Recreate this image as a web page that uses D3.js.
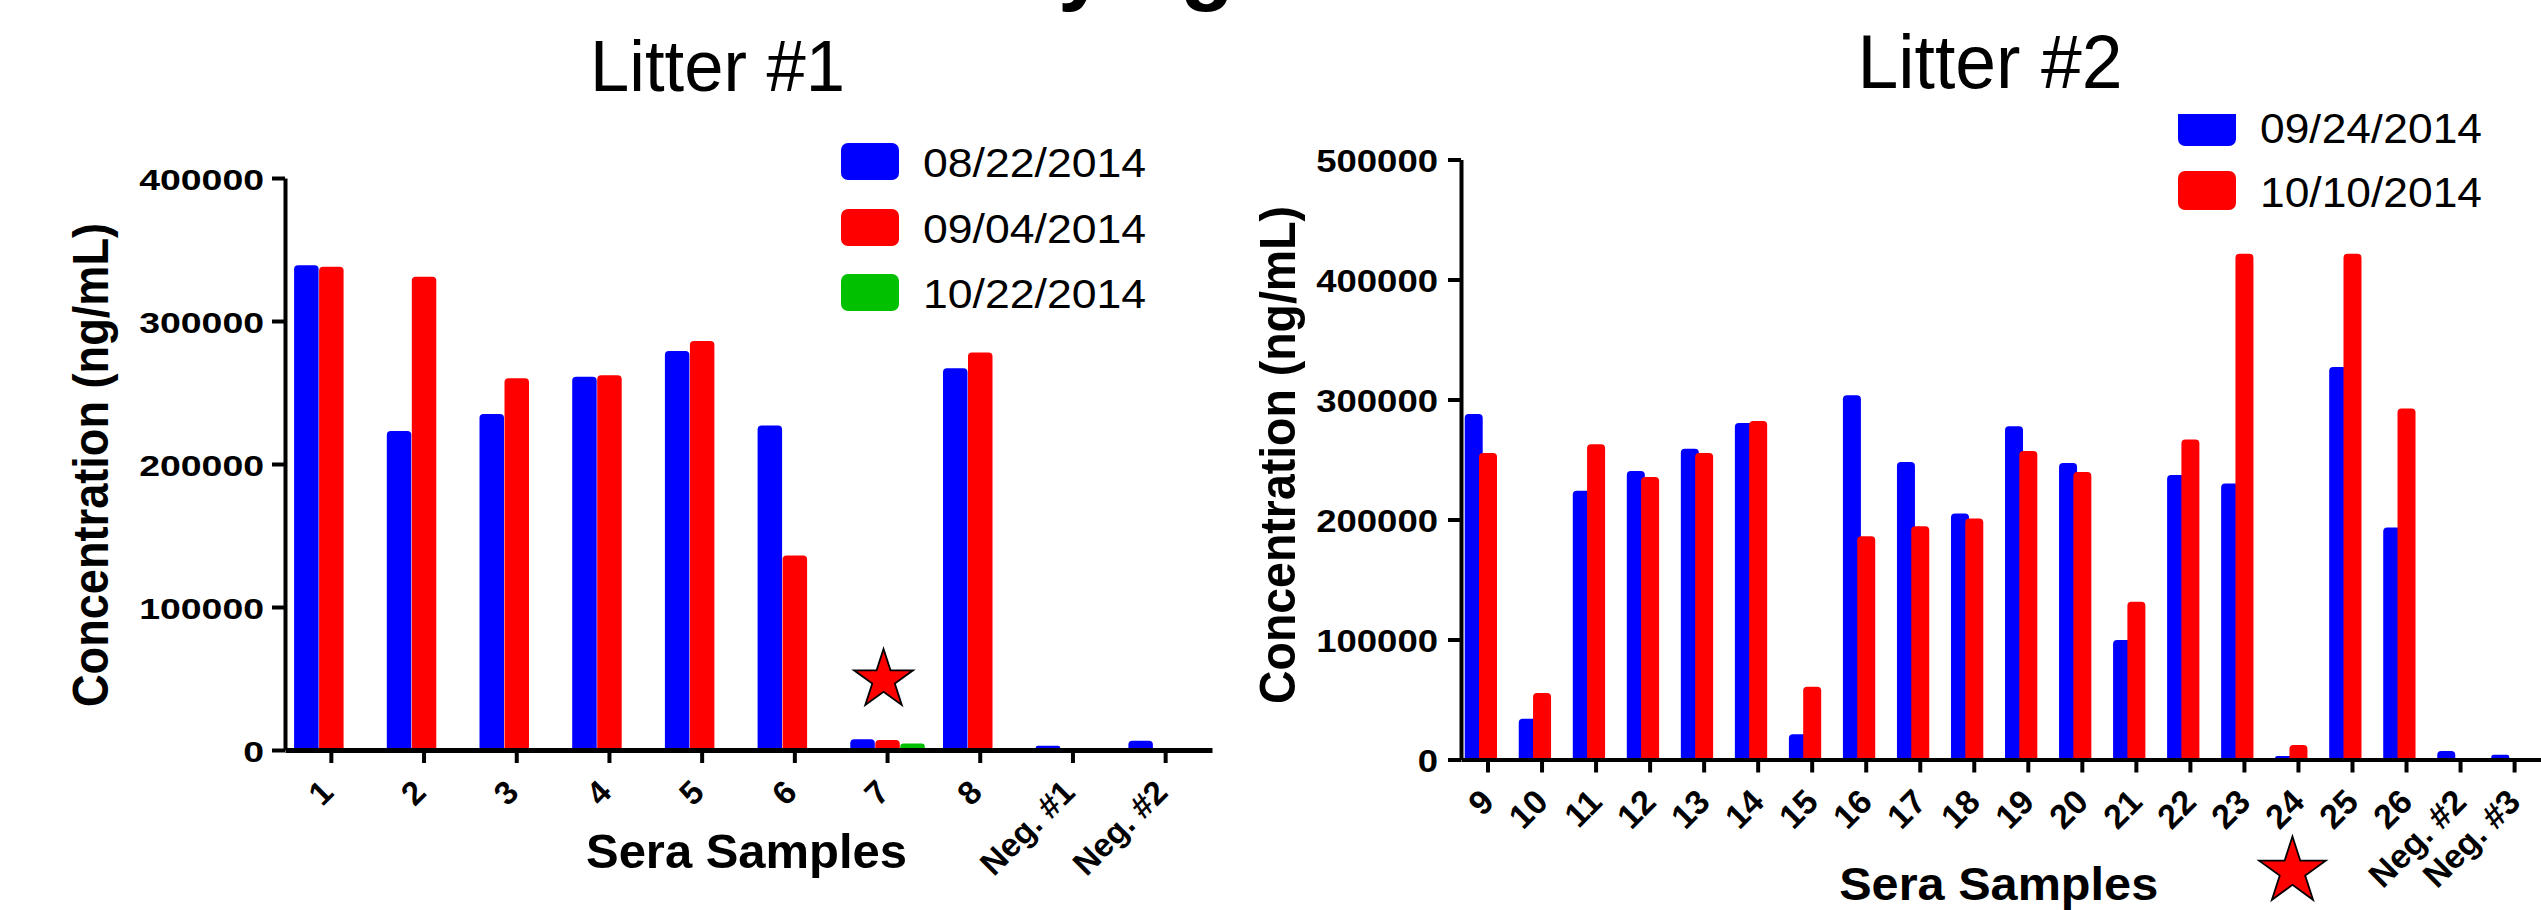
<!DOCTYPE html>
<html>
<head>
<meta charset="utf-8">
<script src="https://cdn.jsdelivr.net/npm/d3@7"></script>
<style>
  body { margin: 0; background: #fff; }
  svg { display: block; }
  text { font-family: "Liberation Sans", Arial, sans-serif; fill: #000; }
</style>
</head>
<body>
<svg id="chart" width="2541" height="910"></svg>
<script>
// ---- data ----
var litter1Samples = ["1", "2", "3", "4", "5", "6", "7", "8", "Neg. #1", "Neg. #2"];
var litter1Dates = ["08/22/2014", "09/04/2014", "10/22/2014"];
var litter1Aug22 = [339000, 223000, 235000, 261000, 279000, 227000, 7500, 267000, 3000, 6500];
var litter1Sep04 = [338000, 331000, 260000, 262000, 286000, 136000, 7000, 278000, 0, 0];
var litter1Oct22 = [0, 0, 0, 0, 0, 0, 4500, 0, 0, 0];
var litter1Ticks = [0, 100000, 200000, 300000, 400000];

var litter2Samples = ["9", "10", "11", "12", "13", "14", "15", "16", "17", "18", "19", "20",
                      "21", "22", "23", "24", "25", "26", "Neg. #2", "Neg. #3"];
var litter2Dates = ["09/24/2014", "10/10/2014"];
var litter2Sep24 = [288000, 34000, 224000, 240500, 259000, 280500, 21000, 303500, 248000, 205000,
                    277700, 247000, 99500, 237000, 230000, 3000, 327000, 193300, 7000, 4000];
var litter2Oct10 = [255500, 55500, 262700, 235500, 255500, 282000, 60600, 186000, 194400, 200800,
                    257000, 239600, 131400, 266600, 421500, 12000, 421500, 292400, 0, 0];
var litter2Ticks = [0, 100000, 200000, 300000, 400000, 500000];

var colors = ["#0000ff", "#ff0000", "#00c000"];

var svg = d3.select("#chart");
svg.append("rect").attr("width", 2541).attr("height", 910).attr("fill", "#fff");

// bar with slightly rounded top corners
function barPath(x, y, w, h) {
    var r = Math.min(4, w / 2, h / 2);
    return "M" + x + "," + (y + h) + "V" + (y + r) +
        "Q" + x + "," + y + " " + (x + r) + "," + y +
        "H" + (x + w - r) +
        "Q" + (x + w) + "," + y + " " + (x + w) + "," + (y + r) +
        "V" + (y + h) + "Z";
}

function drawChart(cfg) {
    var x = d3.scaleBand().domain(cfg.samples).range(cfg.xRange);
    var y = d3.scaleLinear().domain([0, cfg.yMax]).range(cfg.yRange);
    var g = svg.append("g");

    // bars: slot 0 = blue, 1 = red, 2 = green, red slot sits on the tick
    cfg.series.forEach(function (vals, i) {
        var off = (i - 1) * cfg.step;
        var rows = vals.map(function (v, j) { return {v: v, c: cfg.samples[j]}; })
            .filter(function (d) { return d.v > 0; });
        g.selectAll(".s" + i)
            .data(rows)
            .enter().append("path")
            .attr("class", "s" + i)
            .attr("d", function (d) {
                var cx = x(d.c) + x.bandwidth() / 2 + off;
                return barPath(cx - cfg.barW / 2, y(d.v), cfg.barW, y(0) - y(d.v));
            })
            .attr("fill", colors[i]);
    });

    // y axis
    var ya = g.append("g")
        .attr("transform", "translate(" + cfg.xRange[0] + ",0)")
        .call(d3.axisLeft(y).tickValues(cfg.yTicks).tickFormat(d3.format("d"))
            .tickSize(13).tickSizeOuter(0).tickPadding(cfg.yPad));
    ya.select(".domain").attr("stroke-width", 4);
    ya.selectAll(".tick line").attr("stroke-width", 4);
    ya.selectAll("text")
        .attr("font-family", null)
        .attr("font-size", cfg.yFont)
        .attr("font-weight", "bold")
        .attr("dy", "0.38em")
        .attr("textLength", function (d) { return String(d).length * cfg.digitW; })
        .attr("lengthAdjust", "spacingAndGlyphs");

    // x axis
    var xa = g.append("g")
        .attr("transform", "translate(0," + y(0) + ")")
        .call(d3.axisBottom(x).tickSize(13).tickSizeOuter(0));
    xa.select(".domain").attr("stroke-width", cfg.xAxisW);
    xa.selectAll(".tick line").attr("stroke-width", 4);
    xa.selectAll("text")
        .attr("font-family", null)
        .attr("font-size", cfg.xFont)
        .attr("font-weight", "bold")
        .attr("y", 0)
        .attr("dy", "0.35em")
        .attr("text-anchor", "end")
        .attr("transform", "translate(" + cfg.xLab[0] + "," + cfg.xLab[1] + ") rotate(-45)");
    ya.attr("font-size", null).attr("font-family", null);
    xa.attr("font-size", null).attr("font-family", null);

    // axis titles
    g.append("text")
        .attr("x", cfg.xTitle[0]).attr("y", cfg.xTitle[1])
        .attr("text-anchor", "middle")
        .attr("font-size", cfg.xTitle[2]).attr("font-weight", "bold")
        .attr("textLength", cfg.xTitle[3]).attr("lengthAdjust", "spacingAndGlyphs")
        .text("Sera Samples");
    g.append("text")
        .attr("transform", "translate(" + cfg.yTitle[0] + "," + cfg.yTitle[1] + ") rotate(-90)")
        .attr("text-anchor", "middle")
        .attr("font-size", 50).attr("font-weight", "bold")
        .attr("textLength", cfg.yTitle[2]).attr("lengthAdjust", "spacingAndGlyphs")
        .text("Concentration (ng/mL)");

    // panel title
    g.append("text")
        .attr("x", cfg.title[1]).attr("y", cfg.title[2])
        .attr("text-anchor", "middle")
        .attr("font-size", cfg.title[3])
        .attr("textLength", cfg.title[4]).attr("lengthAdjust", "spacingAndGlyphs")
        .text(cfg.title[0]);

    // legend
    var lg = g.append("g");
    if (cfg.legendClip) {
        svg.append("clipPath").attr("id", cfg.legendClip)
            .append("rect").attr("x", 0).attr("y", 114).attr("width", 2541).attr("height", 800);
        lg.attr("clip-path", "url(#" + cfg.legendClip + ")");
    }
    var item = lg.selectAll("g")
        .data(cfg.dates)
        .enter().append("g")
        .attr("transform", function (d, i) { return "translate(" + cfg.legend.x + "," + cfg.legend.ys[i] + ")"; });
    item.append("rect")
        .attr("width", 58).attr("height", cfg.legend.h).attr("rx", 7)
        .attr("fill", function (d, i) { return colors[i]; });
    item.append("text")
        .attr("x", 82).attr("y", cfg.legend.base)
        .attr("font-size", cfg.legend.font)
        .attr("textLength", cfg.legend.len).attr("lengthAdjust", "spacingAndGlyphs")
        .text(function (d) { return d; });

    // star marking the flagged sample
    g.append("path")
        .attr("transform", "translate(" + (x(cfg.star.c) + x.bandwidth() / 2 + cfg.star.dx) + "," +
            (cfg.star.v != null ? y(cfg.star.v) : y(0) + cfg.star.dy) + ")")
        .attr("d", d3.symbol(d3.symbolStar).size(cfg.star.r * cfg.star.r / 0.8908130915292852)())
        .attr("fill", "#ff0000").attr("stroke", "#000").attr("stroke-width", 1.8);
}

drawChart({
    samples: litter1Samples,
    series: [litter1Aug22, litter1Sep04, litter1Oct22],
    dates: litter1Dates,
    xRange: [285, 1212], yRange: [750, 178], yMax: 400000, yTicks: litter1Ticks,
    step: 25, barW: 24.5,
    yPad: 8, yFont: 30, digitW: 20.8,
    xAxisW: 5, xFont: 33, xLab: [-4.4, 36],
    xTitle: [746.5, 868, 49, 321],
    yTitle: [108, 465, 484],
    title: ["Litter #1", 717.5, 90.7, 73, 255],
    legend: {x: 841, ys: [143, 209, 274], h: 37, base: 34, font: 40.5, len: 223},
    star: {c: "7", v: 49000, dx: -4, r: 31}
});

drawChart({
    samples: litter2Samples,
    series: [litter2Sep24, litter2Oct10],
    dates: litter2Dates,
    xRange: [1461, 2541.6], yRange: [759.5, 159.5], yMax: 500000, yTicks: litter2Ticks,
    step: 14.3, barW: 18,
    yPad: 10, yFont: 31, digitW: 20.3,
    xAxisW: 4, xFont: 34, xLab: [-0.6, 36],
    xTitle: [1998.7, 900, 47, 319],
    yTitle: [1295, 455, 498],
    title: ["Litter #2", 1990, 88.3, 76, 265],
    legend: {x: 2178, ys: [107, 171], h: 39, base: 36, font: 42, len: 222},
    legendClip: "legendClip2",
    star: {c: "24", v: null, dy: 112, dx: -6, r: 35}
});

// slide title above the picture: only the descenders show
svg.append("text")
    .attr("x", 1058).attr("y", -6)
    .attr("font-size", 88).attr("font-weight", "bold")
    .text("y ag");
</script>
</body>
</html>
